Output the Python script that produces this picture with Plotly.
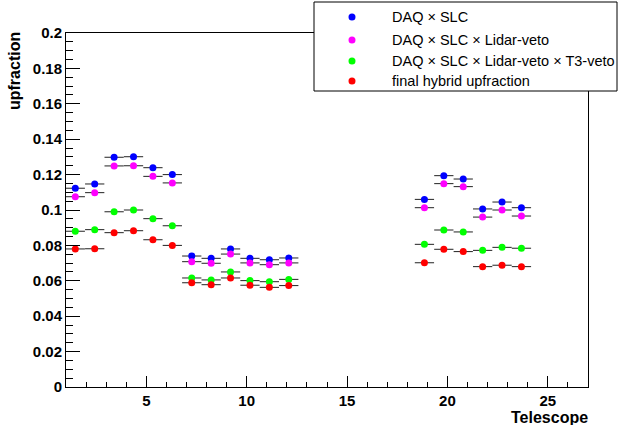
import plotly.graph_objects as go

# Telescope positions (as drawn on the x axis)
x_pos = [1.463, 2.430, 3.397, 4.363, 5.330, 6.296, 7.263, 8.230, 9.196, 10.163, 11.129, 12.096,
         18.853, 19.819, 20.786, 21.752, 22.719, 23.685]
x_err = [0.48] * len(x_pos)

daq_slc = [0.1123, 0.1147, 0.1298, 0.1301, 0.1239, 0.1200, 0.0740, 0.0727, 0.0780, 0.0727, 0.0719, 0.0729,
           0.1060, 0.1194, 0.1175, 0.1006, 0.1045, 0.1013]
daq_slc_lidar = [0.1075, 0.1098, 0.1249, 0.1250, 0.1190, 0.1153, 0.0708, 0.0699, 0.0751, 0.0701, 0.0691, 0.0701,
                 0.1013, 0.1149, 0.1132, 0.0960, 0.1000, 0.0966]
daq_slc_lidar_t3 = [0.0880, 0.0889, 0.0990, 0.1000, 0.0951, 0.0911, 0.0616, 0.0605, 0.0650, 0.0601, 0.0595, 0.0608,
                    0.0806, 0.0887, 0.0876, 0.0772, 0.0789, 0.0784]
final_hybrid = [0.0780, 0.0781, 0.0872, 0.0883, 0.0832, 0.0800, 0.0589, 0.0578, 0.0616, 0.0575, 0.0563, 0.0573,
                0.0702, 0.0778, 0.0765, 0.0680, 0.0688, 0.0680]

series_names = ["DAQ \u00d7 SLC", "DAQ \u00d7 SLC \u00d7 Lidar-veto",
                "DAQ \u00d7 SLC \u00d7 Lidar-veto \u00d7 T3-veto", "final hybrid upfraction"]
series_values = [daq_slc, daq_slc_lidar, daq_slc_lidar_t3, final_hybrid]
series_colors = ["#0000ff", "#ff00ff", "#00ff00", "#ff0000"]

x_ticks = [5, 10, 15, 20, 25]

FONT = "Liberation Sans, Arial, Helvetica, sans-serif"

W, H = 619, 425
ML, MR, MT, MB = 66, 31, 33, 38
PW, PH = W - ML - MR, H - MT - MB


def px2paper_x(px):
    return (px - ML) / PW


def px2paper_y(py):
    return (H - MB - py) / PH


fig = go.Figure()
for name, vals, col in zip(series_names, series_values, series_colors):
    fig.add_trace(go.Scatter(
        x=x_pos, y=vals, mode="markers", name=name, showlegend=False,
        marker=dict(color=col, size=7, line=dict(width=0)),
        error_x=dict(type="data", array=x_err, symmetric=True, width=0,
                     thickness=1, color="#222222"),
    ))

fig.update_layout(
    width=W, height=H,
    margin=dict(l=ML, r=MR, t=MT, b=MB, pad=0),
    paper_bgcolor="white", plot_bgcolor="white",
    font=dict(family=FONT, color="black"),
    showlegend=False,
)

fig.update_xaxes(
    range=[1, 27], tickvals=x_ticks, ticktext=[str(v) for v in x_ticks],
    ticks="inside", ticklen=11, tickwidth=1, tickcolor="black",
    minor=dict(dtick=1, tick0=0, ticks="inside", ticklen=5, tickcolor="black", tickwidth=1),
    showline=True, linecolor="black", linewidth=1, mirror=True,
    showgrid=False, zeroline=False,
    tickfont=dict(family=FONT, size=15, weight="bold", color="black"),
)
fig.update_yaxes(
    range=[0, 0.2], dtick=0.02, tick0=0,
    ticks="inside", ticklen=14, tickwidth=1, tickcolor="black",
    minor=dict(dtick=0.005, tick0=0, ticks="inside", ticklen=7, tickcolor="black", tickwidth=1),
    showline=True, linecolor="black", linewidth=1, mirror=True,
    showgrid=False, zeroline=False,
    tickfont=dict(family=FONT, size=15, weight="bold", color="black"),
)

annotations = [
    dict(text="<b>upfraction</b>", textangle=-90, x=px2paper_x(14), y=px2paper_y(71),
         xref="paper", yref="paper", xanchor="center", yanchor="middle", showarrow=False,
         font=dict(family=FONT, size=16, color="black")),
    dict(text="<b>Telescope</b>", x=px2paper_x(590), y=px2paper_y(417),
         xref="paper", yref="paper", xanchor="right", yanchor="middle", showarrow=False,
         font=dict(family=FONT, size=16, color="black")),
]

shapes = [
    dict(type="rect", xref="paper", yref="paper",
         x0=px2paper_x(314), x1=px2paper_x(617), y0=px2paper_y(91), y1=px2paper_y(2),
         line=dict(color="black", width=1), fillcolor="white", layer="above"),
]

row_y = [17, 40, 61, 81]
for name, col, ry in zip(series_names, series_colors, row_y):
    shapes.append(dict(type="circle", xref="paper", yref="paper",
                       xsizemode="pixel", ysizemode="pixel",
                       xanchor=px2paper_x(352), yanchor=px2paper_y(ry),
                       x0=-3.5, x1=3.5, y0=-3.5, y1=3.5,
                       fillcolor=col, line=dict(width=0), layer="above"))
    annotations.append(dict(text=name, x=px2paper_x(390), y=px2paper_y(ry),
                            xref="paper", yref="paper", xanchor="left", yanchor="middle",
                            showarrow=False, font=dict(family=FONT, size=14.5, color="black")))

fig.update_layout(annotations=annotations, shapes=shapes)

fig.write_html("out.html")
